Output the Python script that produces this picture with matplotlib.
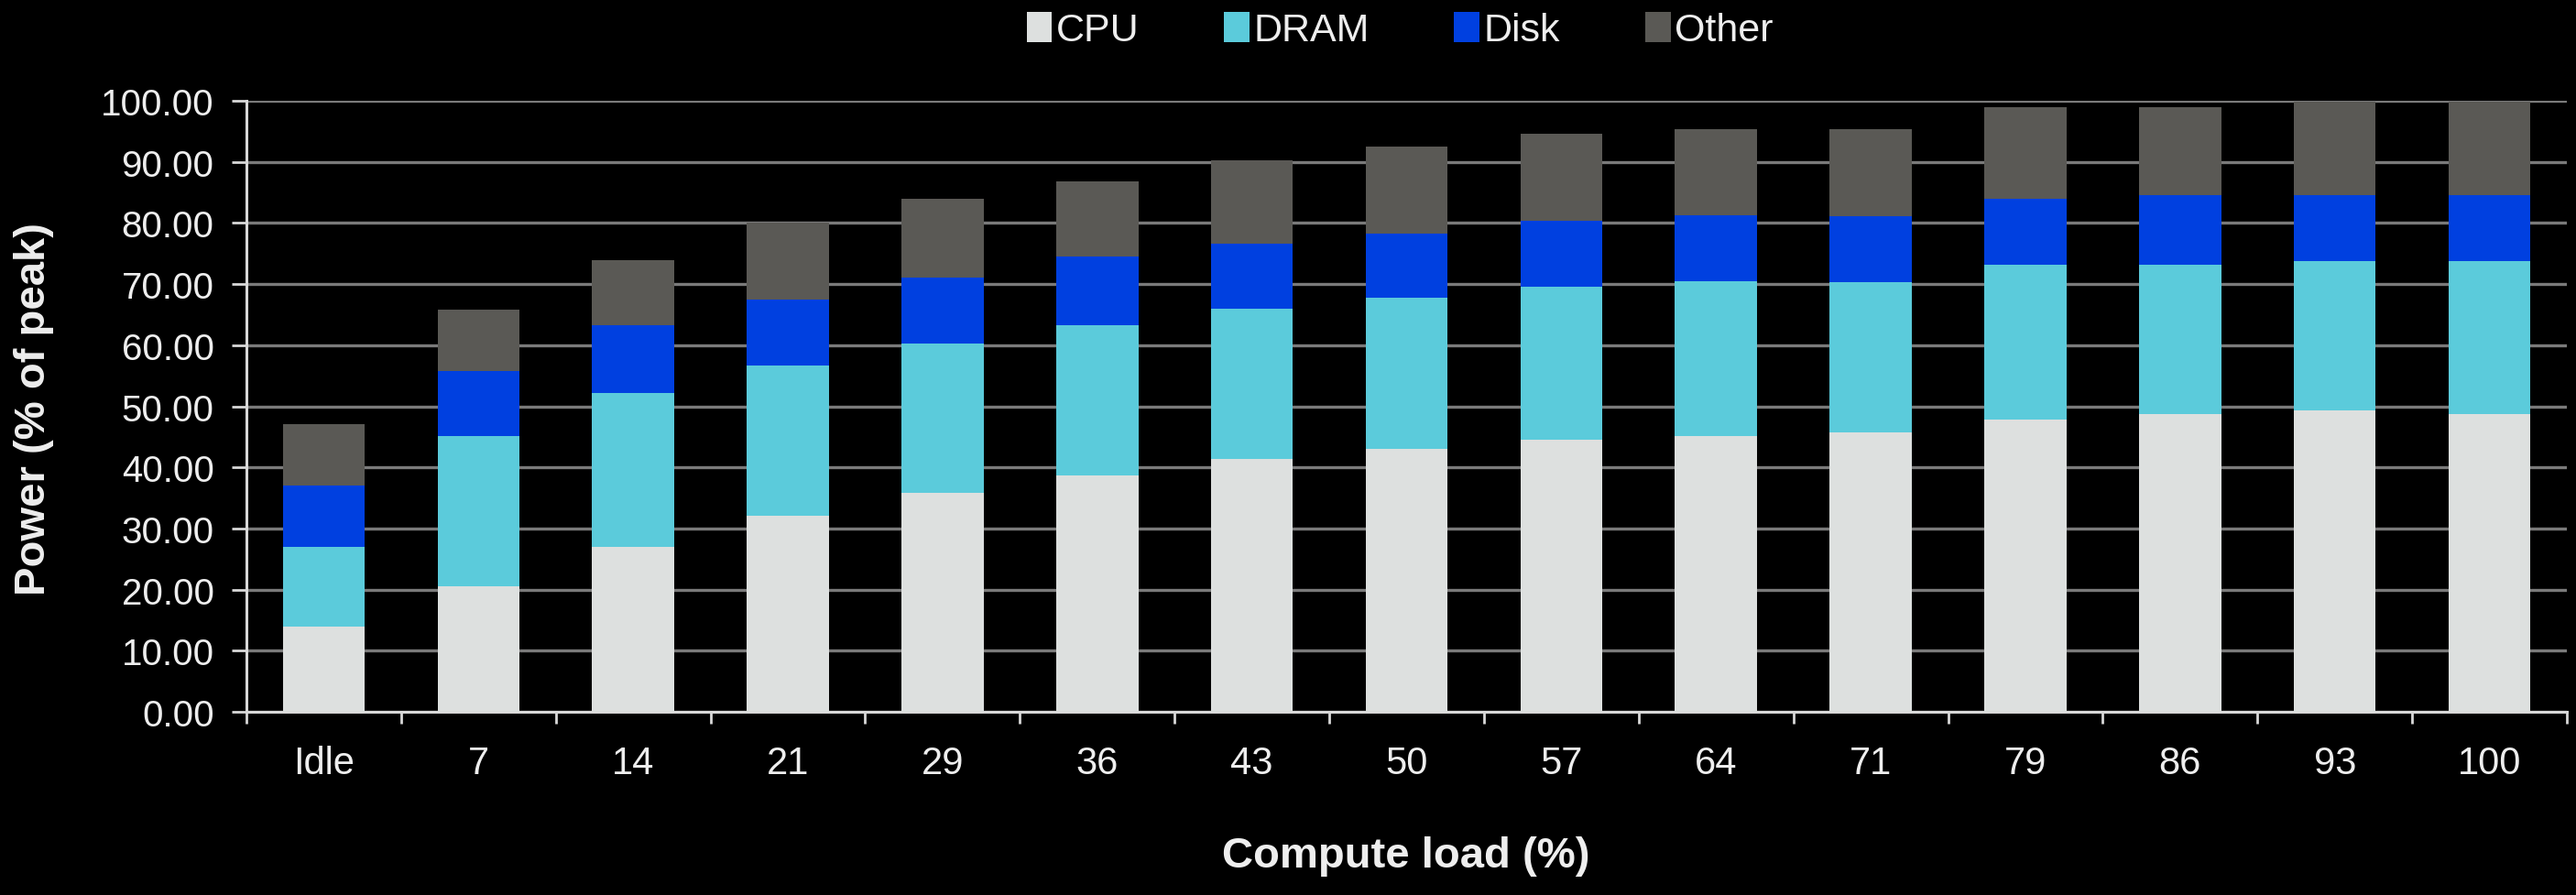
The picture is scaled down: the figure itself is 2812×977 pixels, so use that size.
import numpy as np
import matplotlib
matplotlib.use('Agg')
import matplotlib.pyplot as plt
from matplotlib.ticker import FixedLocator, FormatStrFormatter

loads = ['Idle', '7', '14', '21', '29', '36', '43', '50', '57', '64', '71', '79', '86', '93', '100']
cpu = [14.0, 20.5, 27.0, 32.1, 35.8, 38.7, 41.4, 43.0, 44.6, 45.2, 45.8, 47.9, 48.7, 49.4, 48.7]
dram = [13.0, 24.6, 25.2, 24.5, 24.4, 24.5, 24.5, 24.7, 25.0, 25.2, 24.5, 25.3, 24.5, 24.4, 25.1]
disk = [10.1, 10.7, 11.0, 10.9, 10.8, 11.3, 10.7, 10.5, 10.8, 10.8, 10.8, 10.8, 11.3, 10.8, 10.8]
other = [10.0, 10.0, 10.7, 12.6, 12.9, 12.3, 13.7, 14.3, 14.2, 14.2, 14.3, 14.9, 14.4, 15.3, 15.3]

series = [('CPU', cpu, '#dde0df'), ('DRAM', dram, '#5bcbdb'),
          ('Disk', disk, '#0040e0'), ('Other', other, '#5a5955')]

txt = '#eeeeee'
plt.rcParams['font.family'] = ['Liberation Sans', 'DejaVu Sans']
fig = plt.figure(figsize=(28.12, 9.78), dpi=100, facecolor='black')
ax = fig.add_axes([269 / 2812, 1 - 778 / 978, (2802 - 269) / 2812, (778 - 111) / 978])
ax.set_facecolor('black')

x = np.arange(len(loads))
bottom = np.zeros(len(loads))
for name, vals, col in series:
    ax.bar(x, vals, width=0.53, bottom=bottom, color=col, label=name, zorder=3)
    bottom += np.array(vals)

ax.set_xlim(-0.5, len(loads) - 0.5)
ax.set_ylim(0, 100)
ax.set_yticks(np.arange(0, 101, 10))
ax.yaxis.set_major_formatter(FormatStrFormatter('%.2f'))
ax.grid(axis='y', color='#7a7a7a', linewidth=2.4, zorder=0)

# ticks sit between the categories, labels under the bar centres
ax.xaxis.set_major_locator(FixedLocator(np.arange(-0.5, len(loads), 1)))
ax.xaxis.set_minor_locator(FixedLocator(x))
ax.set_xticklabels([''] * (len(loads) + 1))
ax.set_xticklabels(loads, minor=True)
ax.tick_params(axis='x', which='major', length=9.5, width=2, color='#d8d8d8')
ax.tick_params(axis='x', which='minor', length=0, pad=26, labelsize=30, labelcolor=txt)
ax.tick_params(axis='y', length=11.5, width=2, color='#d8d8d8', labelsize=29, labelcolor=txt, pad=14)

for s in ['top', 'right']:
    ax.spines[s].set_visible(False)
for s in ['left', 'bottom']:
    ax.spines[s].set_color('#d8d8d8')
    ax.spines[s].set_linewidth(2.2)

fig.text(37 / 2812, 1 - 447 / 978, 'Power (% of peak)', rotation=90,
         ha='center', va='center', fontsize=34, fontweight='bold', color=txt)
fig.text(1535 / 2812, 1 - 935 / 978, 'Compute load (%)', ha='center', va='center',
         fontsize=34, fontweight='bold', color=txt)

leg = fig.legend(loc='center', bbox_to_anchor=(1528 / 2812, 1 - 34 / 978), ncol=4, frameon=False,
                 fontsize=31, handlelength=0.65, handleheight=0.8, handletextpad=0.1,
                 columnspacing=2.15, borderpad=0, borderaxespad=0)
for t in leg.get_texts():
    t.set_color(txt)

fig.savefig('out.png', dpi=100, facecolor='black')
